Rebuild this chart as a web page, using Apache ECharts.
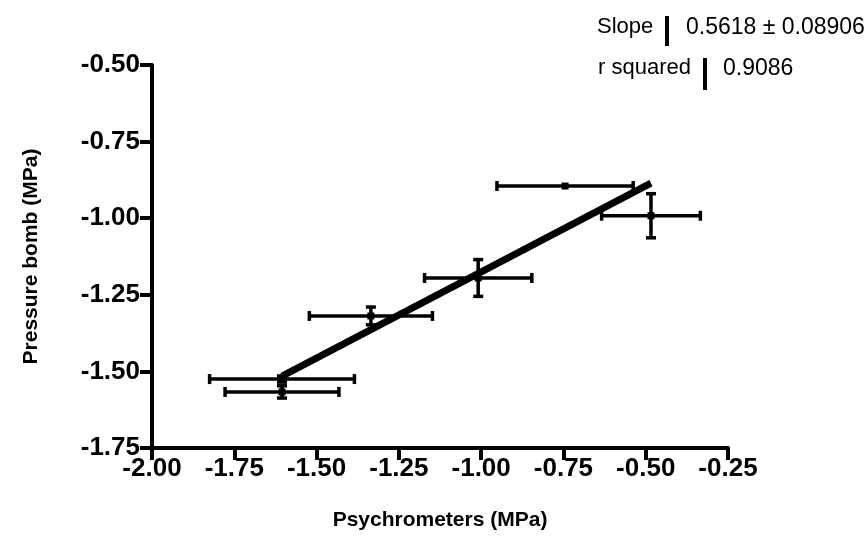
<!DOCTYPE html>
<html><head><meta charset="utf-8">
<script src="https://cdn.jsdelivr.net/npm/echarts@6/dist/echarts.min.js"></script>
<style>html,body{margin:0;padding:0;background:#fff}#c{width:865px;height:541px}</style>
</head><body><div id="c"></div>
<script>
// ---- data ----
const xValues = [-1.605, -1.605, -1.335, -1.009, -0.745, -0.484];   // Psychrometers (MPa)
const yValues = [-1.525, -1.567, -1.319, -1.195, -0.895, -0.992];   // Pressure bomb (MPa)
const xErrors = [0.220, 0.173, 0.187, 0.163, 0.207, 0.150];
const yErrors = [0.010, 0.020, 0.029, 0.060, 0.000, 0.072];
const xTicks = [-2.00, -1.75, -1.50, -1.25, -1.00, -0.75, -0.50, -0.25];
const yTicks = [-1.75, -1.50, -1.25, -1.00, -0.75, -0.50];
const fitSlope = 0.5618;
const fitSlopeErr = 0.08906;
const rSquared = 0.9086;
const xTitle = 'Psychrometers (MPa)';
const yTitle = 'Pressure bomb (MPa)';

// regression line through the means, spanning the data range
const meanX = xValues.reduce((a, b) => a + b, 0) / xValues.length;
const meanY = yValues.reduce((a, b) => a + b, 0) / yValues.length;
const intercept = meanY - fitSlope * meanX;
const xMin = Math.min(...xValues), xMax = Math.max(...xValues);
const fitData = [[xMin, intercept + fitSlope * xMin], [xMax, intercept + fitSlope * xMax]];

const pointData = xValues.map((x, i) => [x, yValues[i], xErrors[i], yErrors[i]]);

const FONT = '"Liberation Sans", Arial, sans-serif';

const chart = echarts.init(document.getElementById('c'), null, {renderer: 'canvas'});
chart.setOption({
  backgroundColor: '#fff',
  animation: false,
  grid: {left: 152, right: 137, top: 65, bottom: 93, containLabel: false},
  xAxis: {
    type: 'value', min: xTicks[0], max: xTicks[xTicks.length - 1], interval: 0.25,
    axisLine: {onZero: false, lineStyle: {color: '#000', width: 4}},
    axisTick: {length: 12, lineStyle: {color: '#000', width: 4}},
    splitLine: {show: false},
    axisLabel: {color: '#000', fontWeight: 'bold', fontSize: 26, fontFamily: FONT, margin: 8,
      showMinLabel: true, showMaxLabel: true, formatter: v => v.toFixed(2)},
    name: xTitle, nameLocation: 'middle', nameGap: 62,
    nameTextStyle: {color: '#000', fontWeight: 'bold', fontSize: 21, fontFamily: FONT}
  },
  yAxis: {
    type: 'value', min: yTicks[0], max: yTicks[yTicks.length - 1], interval: 0.25,
    axisLine: {onZero: false, lineStyle: {color: '#000', width: 4}},
    axisTick: {length: 12, lineStyle: {color: '#000', width: 4}},
    splitLine: {show: false},
    axisLabel: {color: '#000', fontWeight: 'bold', fontSize: 26, fontFamily: FONT, margin: 12,
      showMinLabel: true, showMaxLabel: true, formatter: v => v.toFixed(2)},
    name: yTitle, nameLocation: 'middle', nameGap: 110,
    nameTextStyle: {color: '#000', fontWeight: 'bold', fontSize: 21, fontFamily: FONT}
  },
  series: [
    {
      type: 'custom', z: 3,
      data: pointData,
      renderItem: function (params, api) {
        const x = api.value(0), y = api.value(1), ex = api.value(2), ey = api.value(3);
        const c = api.coord([x, y]);
        const l = api.coord([x - ex, y]), r = api.coord([x + ex, y]);
        const t = api.coord([x, y + ey]), b = api.coord([x, y - ey]);
        const st = {stroke: '#000', lineWidth: 3.5};
        const cap = 5;
        const ch = [
          {type: 'line', shape: {x1: l[0], y1: c[1], x2: r[0], y2: c[1]}, style: st},
          {type: 'line', shape: {x1: l[0], y1: c[1] - cap, x2: l[0], y2: c[1] + cap}, style: st},
          {type: 'line', shape: {x1: r[0], y1: c[1] - cap, x2: r[0], y2: c[1] + cap}, style: st}
        ];
        if (ey > 0) {
          ch.push({type: 'line', shape: {x1: c[0], y1: t[1], x2: c[0], y2: b[1]}, style: st});
          ch.push({type: 'line', shape: {x1: c[0] - cap, y1: t[1], x2: c[0] + cap, y2: t[1]}, style: st});
          ch.push({type: 'line', shape: {x1: c[0] - cap, y1: b[1], x2: c[0] + cap, y2: b[1]}, style: st});
        }
        ch.push({type: 'rect', shape: {x: c[0] - 3.5, y: c[1] - 3.5, width: 7, height: 7}, style: {fill: '#000'}});
        return {type: 'group', children: ch};
      }
    },
    {
      type: 'line', z: 4, data: fitData, symbol: 'none',
      lineStyle: {color: '#000', width: 7}
    }
  ],
  graphic: [
    {type: 'text', left: 597, top: 16, style: {text: 'Slope', fontSize: 22, fontFamily: FONT, fill: '#000'}},
    {type: 'rect', left: 665, top: 16, shape: {width: 4, height: 30}, style: {fill: '#000'}},
    {type: 'text', left: 686, top: 16, style: {text: fitSlope.toFixed(4) + ' \u00b1 ' + fitSlopeErr.toFixed(5), fontSize: 23, fontFamily: FONT, fill: '#000'}},
    {type: 'text', left: 598, top: 57, style: {text: 'r squared', fontSize: 22, fontFamily: FONT, fill: '#000'}},
    {type: 'rect', left: 703, top: 58, shape: {width: 4, height: 32}, style: {fill: '#000'}},
    {type: 'text', left: 723, top: 57, style: {text: rSquared.toFixed(4), fontSize: 23, fontFamily: FONT, fill: '#000'}}
  ]
});
</script></body></html>
